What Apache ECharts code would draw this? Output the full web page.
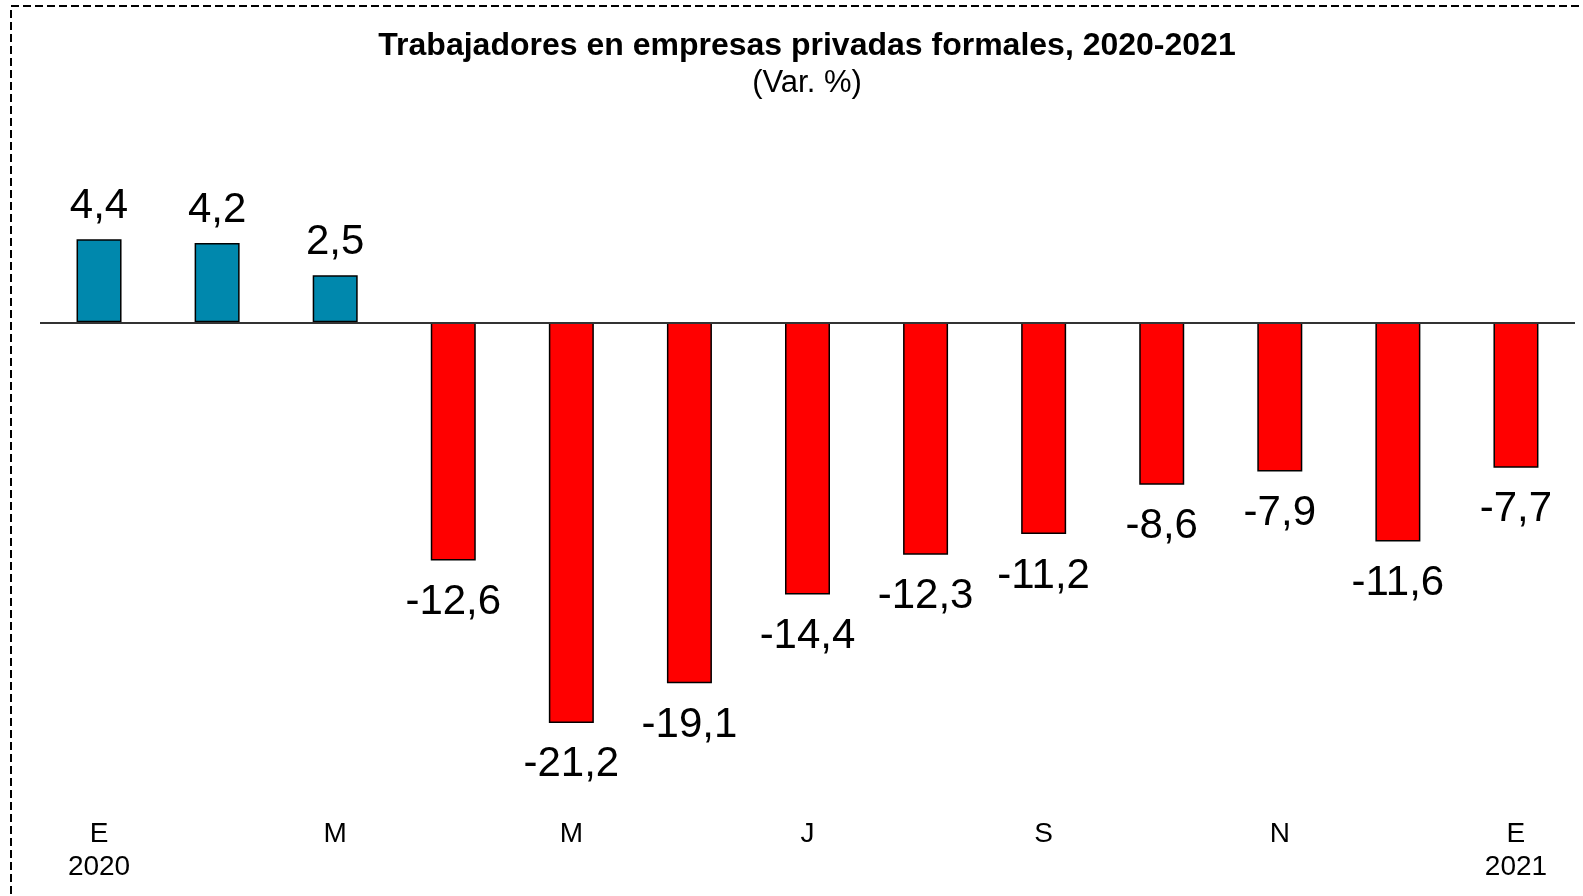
<!DOCTYPE html>
<html>
<head>
<meta charset="utf-8">
<script src="https://cdn.jsdelivr.net/npm/echarts@6/dist/echarts.min.js"></script>
<style>
  html, body { margin: 0; padding: 0; background: #fff; }
  #chart { width: 1583px; height: 896px; }
</style>
</head>
<body>
<div id="chart"></div>
<script>
// meses (E = enero ... D = diciembre), 2020-01 a 2021-01
const months = ["E", "F", "M", "A", "M", "J", "J", "A", "S", "O", "N", "D", "E"]
const years = ["2020", "", "", "", "", "", "", "", "", "", "", "", "2021"]
const values = [4.4, 4.2, 2.5, -12.6, -21.2, -19.1, -14.4, -12.3, -11.2, -8.6, -7.9, -11.6, -7.7]

const BLUE = "#0088ad"
const RED = "#ff0000"
const FONT = "Liberation Sans, Arial, sans-serif"

const chart = echarts.init(document.getElementById("chart"))

// positivos: etiqueta arriba; negativos: abajo
const barData = values.map(v => ({
  value: v,
  itemStyle: { color: v >= 0 ? BLUE : RED },
  label: v >= 0 ? { position: "top", distance: 12 } : { position: "bottom", distance: 21 },
}))

chart.setOption({
  animation: false,
  backgroundColor: "#fff",
  graphic: [
    {
      type: "rect",
      shape: { x: 11, y: 6, width: 1700, height: 1000 },
      style: { fill: "none", stroke: "#000", lineWidth: 2, lineDash: [8, 4] },
      silent: true,
    },
  ],
  title: {
    text: "Trabajadores en empresas privadas formales, 2020-2021",
    subtext: "(Var. %)",
    left: 802,
    top: 25,
    textAlign: "center",
    itemGap: 6,
    textStyle: { fontFamily: FONT, fontSize: 32, fontWeight: "bold", color: "#000" },
    subtextStyle: { fontFamily: FONT, fontSize: 31, color: "#000" },
  },
  grid: { left: 40, width: 1535, top: 209, height: 529 },
  xAxis: {
    type: "category",
    data: months,
    axisLine: { show: false, onZero: false },
    axisTick: { show: false },
    axisLabel: {
      interval: 1,
      margin: 80,
      fontFamily: FONT,
      fontSize: 28,
      lineHeight: 33,
      color: "#000",
      formatter: (v, i) => years[i] ? v + "\n" + years[i] : v,
    },
  },
  yAxis: {
    type: "value",
    min: -22,
    max: 6,
    show: false,
    splitLine: { show: false },
  },
  series: [
    {
      type: "bar",
      data: barData,
      barWidth: 45,
      itemStyle: { borderColor: "#000", borderWidth: 1.5 },
      label: {
        show: true,
        fontFamily: FONT,
        fontSize: 42,
        color: "#000",
        formatter: p => String(p.value).replace(".", ","),
      },
      markLine: {
        silent: true,
        symbol: "none",
        label: { show: false },
        lineStyle: { color: "#333", width: 2, type: "solid" },
        data: [{ yAxis: 0 }],
      },
    },
  ],
})
</script>
</body>
</html>
